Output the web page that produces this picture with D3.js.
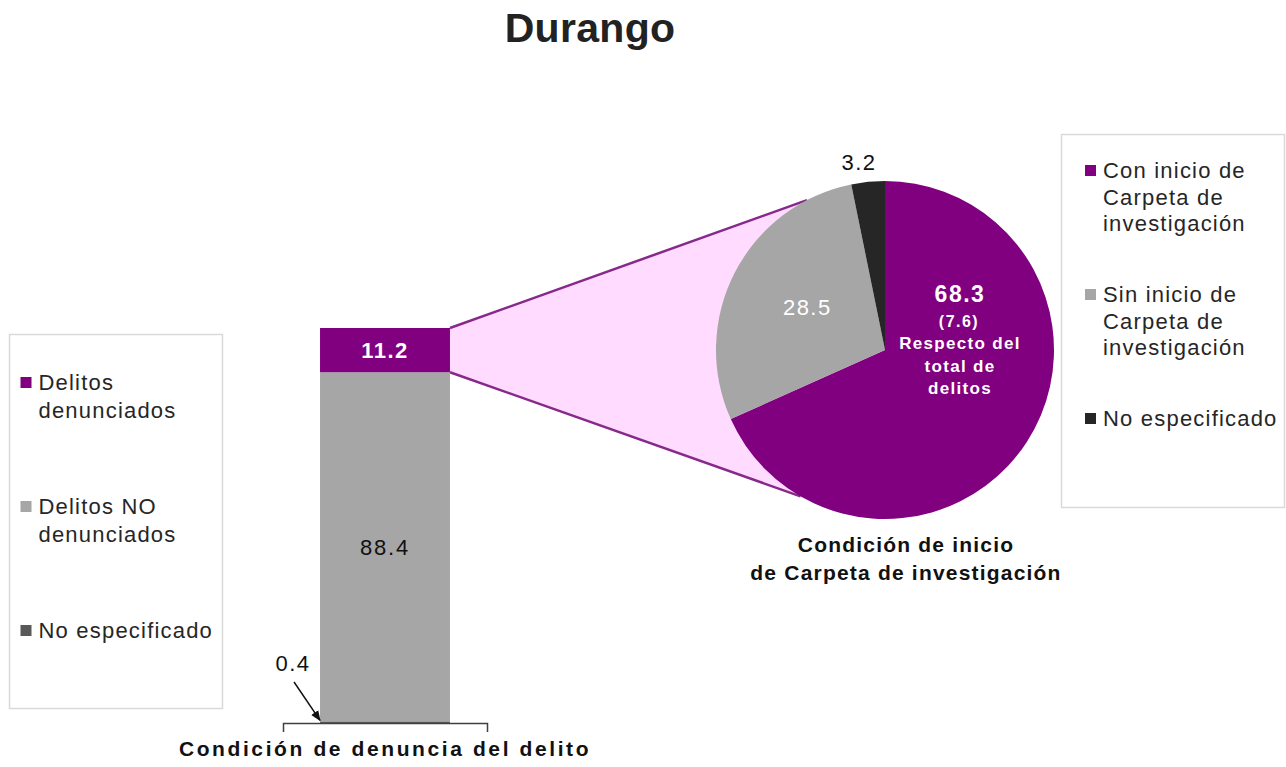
<!DOCTYPE html>
<html>
<head>
<meta charset="utf-8">
<script src="https://cdn.jsdelivr.net/npm/d3@7"></script>
<style>
  body { margin: 0; background: #fff; }
  svg { display: block; font-family: "Liberation Sans", Arial, sans-serif; }
</style>
</head>
<body>
<svg id="chart" width="1286" height="767"></svg>
<script>
// Bar: condición de denuncia (stack order bottom -> top)
const barCategories = ['No especificado', 'Delitos NO denunciados', 'Delitos denunciados'];
const barValues = [0.4, 88.4, 11.2];
const barColors = ['#595959', '#a6a6a6', '#800080'];
const barAxisLabel = 'Condición de denuncia del delito';

// Pie: condición de inicio de carpeta (clockwise from 12 o'clock)
const pieCategories = ['Con inicio de Carpeta de investigación', 'Sin inicio de Carpeta de investigación', 'No especificado'];
const pieValues = [68.3, 28.5, 3.2];
const pieColors = ['#800080', '#a6a6a6', '#262626'];
const pieShareOfTotal = 7.6;
const pieTitle = ['Condición de inicio', 'de Carpeta de investigación'];

// Legend texts, as broken in the picture
const barLegendLines = [['Delitos', 'denunciados'], ['Delitos NO', 'denunciados'], ['No especificado']];
const barLegendColors = ['#800080', '#a6a6a6', '#595959'];
const pieLegendLines = [['Con inicio de', 'Carpeta de', 'investigación'], ['Sin inicio de', 'Carpeta de', 'investigación'], ['No especificado']];

const svg = d3.select('#chart');
const textColor = '#262626';

// Title
svg.append('text')
  .attr('x', 590).attr('y', 42)
  .attr('text-anchor', 'middle')
  .attr('font-size', 41).attr('font-weight', 'bold').attr('letter-spacing', 0.3)
  .attr('fill', '#222')
  .text('Durango');

// Scales
const x = d3.scaleBand().domain([barAxisLabel]).range([283, 487]).paddingInner(0).paddingOuter(0.285);
const y = d3.scaleLinear().domain([0, 100]).range([723, 328]);

// Stack the bar
let acc = 0;
const barStack = barValues.map((v, i) => {
  const d = { key: barCategories[i], y0: acc, y1: acc + v, value: v, color: barColors[i] };
  acc += v;
  return d;
});
const topSeg = barStack[2];

// Pie geometry
const cx = 885, cy = 350, r = 169;
const pie = d3.pie().sort(null).value((d) => d)(pieValues);
const arc = d3.arc().innerRadius(0).outerRadius(r);
const pt = (a, rr) => [cx + rr * Math.sin(a), cy - rr * Math.cos(a)];

// Connector between the denunciados segment and the pie
const upperAngle = -27.5 * Math.PI / 180;
const lowerAngle = 210 * Math.PI / 180;
const barRight = x(barAxisLabel) + x.bandwidth();
const pUp = pt(upperAngle, r);
const pLow = pt(lowerAngle, r);
svg.append('path')
  .attr('d', d3.line()([[barRight, y(topSeg.y1)], pUp, [cx, cy], pLow, [barRight, y(topSeg.y0)]]) + 'Z')
  .attr('fill', '#ffdcff');
svg.append('line')
  .attr('x1', barRight).attr('y1', y(topSeg.y1)).attr('x2', pUp[0]).attr('y2', pUp[1])
  .attr('stroke', '#87298a').attr('stroke-width', 2.5);
svg.append('line')
  .attr('x1', barRight).attr('y1', y(topSeg.y0)).attr('x2', pLow[0]).attr('y2', pLow[1])
  .attr('stroke', '#87298a').attr('stroke-width', 2.5);

// Bar
svg.append('g').selectAll('rect')
  .data(barStack)
  .join('rect')
  .attr('x', x(barAxisLabel))
  .attr('width', x.bandwidth())
  .attr('y', (d) => y(d.y1))
  .attr('height', (d) => y(d.y0) - y(d.y1))
  .attr('fill', (d) => d.color);

// Bar axis
const xAxis = svg.append('g')
  .attr('transform', `translate(0,${y(0)})`)
  .call(d3.axisBottom(x).tickSizeInner(0).tickSizeOuter(9).tickPadding(18));
xAxis.select('.domain').attr('stroke', '#404040').attr('stroke-width', 1.5);
xAxis.selectAll('.tick text')
  .attr('font-size', 21).attr('font-weight', 'bold')
  .attr('letter-spacing', 2.6)
  .attr('font-family', '"Liberation Sans", Arial, sans-serif')
  .attr('fill', '#111');

// Bar labels
const bx = x(barAxisLabel) + x.bandwidth() / 2;
svg.append('text')
  .attr('x', bx).attr('y', (y(topSeg.y0) + y(topSeg.y1)) / 2)
  .attr('dy', '0.36em').attr('text-anchor', 'middle')
  .attr('font-size', 22).attr('font-weight', 'bold').attr('letter-spacing', 1.5)
  .attr('fill', '#fff').text(topSeg.value.toFixed(1));
svg.append('text')
  .attr('x', bx).attr('y', (y(barStack[1].y0) + y(barStack[1].y1)) / 2)
  .attr('dy', '0.36em').attr('text-anchor', 'middle')
  .attr('font-size', 22).attr('letter-spacing', 1.8)
  .attr('fill', '#111').text(barStack[1].value.toFixed(1));

// 0.4 callout with arrow
svg.append('defs').append('marker')
  .attr('id', 'arrow').attr('viewBox', '0 0 10 10')
  .attr('refX', 9).attr('refY', 5)
  .attr('markerWidth', 7).attr('markerHeight', 7)
  .attr('orient', 'auto')
  .append('path').attr('d', 'M0,1L10,5L0,9Z').attr('fill', '#111');
svg.append('text')
  .attr('x', x(barAxisLabel) - 27).attr('y', 671)
  .attr('text-anchor', 'middle')
  .attr('font-size', 22).attr('letter-spacing', 1.5)
  .attr('fill', '#111').text(barStack[0].value.toFixed(1));
svg.append('line')
  .attr('x1', x(barAxisLabel) - 26).attr('y1', 682)
  .attr('x2', x(barAxisLabel)).attr('y2', y(barStack[0].y1) - 1)
  .attr('stroke', '#111').attr('stroke-width', 1.5)
  .attr('marker-end', 'url(#arrow)');

// Pie
svg.append('g').selectAll('path')
  .data(pie)
  .join('path')
  .attr('transform', `translate(${cx},${cy})`)
  .attr('d', arc)
  .attr('fill', (d, i) => pieColors[i]);

// Pie labels
const mainLabel = svg.append('g').attr('fill', '#fff').attr('font-weight', 'bold').attr('text-anchor', 'middle');
mainLabel.append('text').attr('x', cx + 75).attr('y', cy - 48)
  .attr('font-size', 23).attr('letter-spacing', 1.5).text(pieValues[0].toFixed(1));
mainLabel.append('text').attr('x', cx + 74).attr('y', cy - 23)
  .attr('font-size', 16).attr('letter-spacing', 1.5).text(`(${pieShareOfTotal.toFixed(1)})`);
['Respecto del', 'total de', 'delitos'].forEach((t, i) => {
  mainLabel.append('text').attr('x', cx + 75).attr('y', cy - 1 + i * 22.5)
    .attr('font-size', 17).attr('letter-spacing', 1.3).text(t);
});

const grayCentroid = d3.arc().innerRadius(0).outerRadius(r * 1.1).centroid(pie[1]);
svg.append('text')
  .attr('x', cx + grayCentroid[0] + 5).attr('y', cy + grayCentroid[1])
  .attr('dy', '0.36em').attr('text-anchor', 'middle')
  .attr('font-size', 22).attr('letter-spacing', 1.5)
  .attr('fill', '#fff').text(pieValues[1].toFixed(1));

const darkPos = d3.arc().innerRadius(r * 1.12).outerRadius(r * 1.12).centroid(pie[2]);
svg.append('text')
  .attr('x', cx + darkPos[0] - 7).attr('y', cy + darkPos[1])
  .attr('dy', '0.36em').attr('text-anchor', 'middle')
  .attr('font-size', 22).attr('letter-spacing', 1.5)
  .attr('fill', '#111').text(pieValues[2].toFixed(1));

// Pie title
svg.append('g').selectAll('text')
  .data(pieTitle)
  .join('text')
  .attr('x', 906).attr('y', (d, i) => 552 + i * 28)
  .attr('text-anchor', 'middle')
  .attr('font-size', 21).attr('font-weight', 'bold').attr('letter-spacing', 1.2)
  .attr('fill', '#111')
  .text((d) => d);

// Legends
function drawLegend(box, lines, colors, firstBaseline, itemStep, lineHeight) {
  const g = svg.append('g');
  g.append('rect')
    .attr('x', box.x).attr('y', box.y).attr('width', box.w).attr('height', box.h)
    .attr('fill', '#fff').attr('stroke', '#d9d9d9').attr('stroke-width', 1.5);
  lines.forEach((ls, i) => {
    const base = firstBaseline + i * itemStep;
    g.append('rect')
      .attr('x', box.x + box.pad).attr('y', base - 13)
      .attr('width', 11).attr('height', 11)
      .attr('fill', colors[i]);
    ls.forEach((t, j) => {
      g.append('text')
        .attr('x', box.x + box.pad + 18).attr('y', base + j * lineHeight)
        .attr('font-size', 22).attr('letter-spacing', 1.2)
        .attr('fill', textColor).text(t);
    });
  });
}
drawLegend({ x: 9.5, y: 334.5, w: 213, h: 374, pad: 11 }, barLegendLines, barLegendColors, 390, 124, 28);
drawLegend({ x: 1061.5, y: 134.5, w: 223, h: 373, pad: 23.5 }, pieLegendLines, pieColors, 178, 124, 26.5);
</script>
</body>
</html>
